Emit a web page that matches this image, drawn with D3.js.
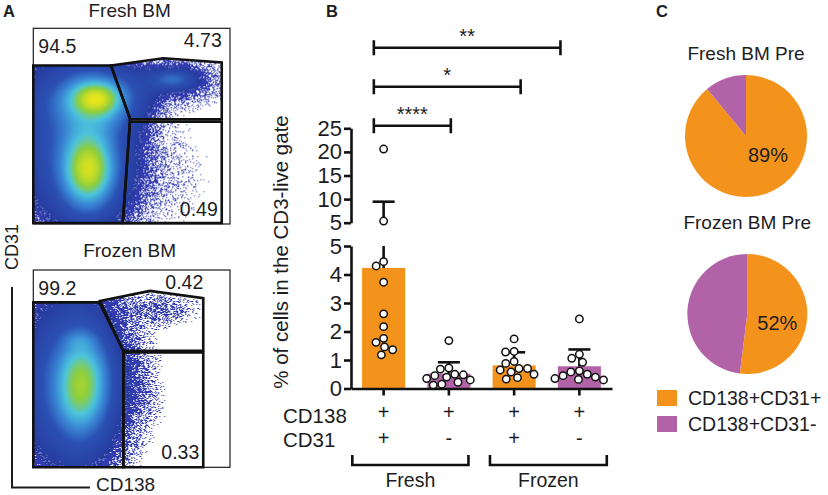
<!DOCTYPE html>
<html lang="en">
<head>
<meta charset="UTF-8">
<script src="https://cdn.jsdelivr.net/npm/d3@7"></script>
<title>CD138 / CD31 figure</title>
<style>
  body { margin: 0; background: #fff; }
  svg { display: block; font-family: "Liberation Sans", Arial, sans-serif; }
</style>
</head>
<body>
<div id="chart"></div>
<script>
// ---------- data ----------
// panel B: bars
const cd138Row = ["+", "+", "+", "+"];
const cd31Row = ["+", "-", "+", "-"];
const barMeans = [4.23, 0.52, 0.81, 0.78];
const barSD = [5.22, 0.40, 0.46, 0.59];
const freshPos = [20.6, 5.35, 4.45, 4.30, 3.73, 2.62, 2.17, 1.76, 1.62, 1.46, 1.36, 1.18];
const freshNeg = [1.68, 0.72, 0.68, 0.50, 0.48, 0.45, 0.40, 0.35, 0.30, 0.22, 0.15, 0.12];
const frozenPos = [1.74, 1.30, 1.28, 0.95, 0.88, 0.70, 0.65, 0.70, 0.58, 0.50, 0.38, 0.33];
const frozenNeg = [2.44, 1.20, 1.06, 0.92, 0.62, 0.58, 0.50, 0.45, 0.40, 0.35, 0.32, 0.30];
const lowTicks = [0, 1, 2, 3, 4, 5];
const highTicks = [5, 10, 15, 20, 25];
const sigLabels = ["****", "*", "**"];
const sigFrom = [-0.15, -0.15, -0.15];   // in bar-index units
const sigTo = [1.03, 2.1, 2.71];
const groupNames = ["Fresh", "Frozen"];
const groupFrom = [-0.48, 1.63];
const groupTo = [1.3, 3.42];

// panel C: pies
const pieTitles = ["Fresh BM Pre", "Frozen BM Pre"];
const freshPie = [89, 11];
const frozenPie = [52, 48];
const pieLabels = ["89%", "52%"];
const legendLabels = ["CD138+CD31+", "CD138+CD31-"];

// panel A: flow plots (axes 0-100 on both CD138 and CD31)
const flowTitles = ["Fresh BM", "Frozen BM"];
const freshGates = [
  [[0, 81], [39.5, 81], [49.2, 54], [45.5, 0.5], [0, 0.5]],
  [[39.5, 81], [66.1, 84.7], [95.8, 82.6], [95.8, 53.5], [49.2, 53.5]],
  [[49.2, 52.3], [95.8, 52.3], [95.8, 0.5], [45.5, 0.5]]
];
const frozenGates = [
  [[0, 83.6], [33.6, 83.6], [45.8, 59], [45.8, 0], [0, 0]],
  [[33.9, 84.3], [59.3, 89.4], [86.4, 85.7], [86.4, 59], [45.8, 59]],
  [[45.8, 58.2], [86.4, 58.2], [86.4, 0], [45.8, 0]]
];
const freshGateValues = ["94.5", "4.73", "0.49"];
const frozenGateValues = ["99.2", "0.42", "0.33"];
// density model: [centre CD138, centre CD31, spread x, spread y, weight]
const freshClusters = [
  [32, 64, 7, 4.8, 0.55],
  [28, 28, 6.5, 9.5, 0.5],
  [31, 63, 14, 10, 0.38],
  [28, 30, 12, 17, 0.38],
  [20, 50, 16, 35, 0.085],
  [3, 45, 5, 30, 0.04],
  [71, 74, 7, 3.2, 0.17],
  [68, 73, 16, 6.5, 0.07],
  [55, 40, 6, 22, 0.012],
  [67, 25, 15, 18, 0.011]
];
const frozenClusters = [
  [25, 48, 7, 10, 0.25],
  [24, 35, 7, 10, 0.25],
  [24, 42, 13, 22, 0.25],
  [20, 45, 13, 33, 0.1],
  [3, 42, 5, 30, 0.04],
  [24, 64, 5, 3, 0.08],
  [63, 80, 12, 5, 0.028],
  [54, 40, 8, 16, 0.014]
];

// ---------- layout ----------
const W = 828, H = 495;
const orange = "#f4931c", purple = "#b262a6", ink = "#1d1d1f";
const barColors = [orange, purple, orange, purple];

const svg = d3.select("#chart").append("svg")
  .attr("width", W).attr("height", H);

const panelLetter = (x, t) => svg.append("text")
  .attr("x", x).attr("y", 17).attr("font-size", 16.5)
  .attr("font-weight", "bold").attr("fill", ink).text(t);
panelLetter(3, "A");
panelLetter(326, "B");
panelLetter(656, "C");

// ---------- panel A ----------
const ramp = d3.scaleLinear()
  .domain([0, 0.4, 0.6, 0.75, 0.87, 1])
  .range(["#26389c", "#2b50b4", "#3a8ad6", "#4cc4dc", "#8fcf3c", "#e6e41c"])
  .clamp(true);

// grain for the event cloud (fixed hash, texture only)
function grain(x, y) {
  let h = Math.imul(x, 374761393) + Math.imul(y, 668265263) | 0;
  h = Math.imul(h ^ (h >>> 13), 1274126177);
  return ((h ^ (h >>> 16)) >>> 0) / 4294967296;
}

function drawFlow(id, frame, gates, clusters, values, title, titleY, seed) {
  const [x0, x1, y0, y1] = frame;
  const xF = d3.scaleLinear([0, 100], [x0, x1]);
  const yF = d3.scaleLinear([0, 100], [y1, y0]);
  const g = svg.append("g");

  g.append("text").attr("x", (x0 + x1) / 2 - 2).attr("y", titleY)
    .attr("text-anchor", "middle").attr("font-size", 19).attr("fill", ink).text(title);

  // density picture
  const w = Math.round(x1 - x0), h = Math.round(y1 - y0);
  const canvas = document.createElement("canvas");
  canvas.width = w; canvas.height = h;
  const ctx = canvas.getContext("2d");
  const img = ctx.createImageData(w, h);
  const L0 = -1.25, L1 = -2.5;
  const speck = d3.rgb(50, 60, 176);
  for (let py = 0; py < h; py++) {
    for (let px = 0; px < w; px++) {
      const u = xF.invert(x0 + px + 0.5), v = yF.invert(y0 + py + 0.5);
      const d = d3.sum(clusters, c =>
        c[4] * Math.exp(-0.5 * ((u - c[0]) / c[2]) ** 2 - 0.5 * ((v - c[1]) / c[3]) ** 2));
      const ld = Math.log10(d + 1e-9);
      const n = grain(px + seed, py);
      const k = (py * w + px) * 4;
      let col = null;
      if (ld >= L0) {
        const lv = (ld - L0) / -L0;
        col = (lv < 0.12 && n > 0.75 + lv * 2) ? d3.rgb(120, 130, 210) : d3.rgb(ramp(lv));
      } else if (ld > L1) {
        const p = Math.pow((ld - L1) / (L0 - L1), 1.6);
        if (n < p) col = speck;
      }
      if (col) {
        img.data[k] = col.r; img.data[k + 1] = col.g; img.data[k + 2] = col.b; img.data[k + 3] = 255;
      }
    }
  }
  ctx.putImageData(img, 0, 0);

  const clip = g.append("clipPath").attr("id", id);
  gates.forEach(gt => clip.append("polygon")
    .attr("points", gt.map(p => [xF(p[0]), yF(p[1])].join(",")).join(" ")));

  g.append("image").attr("x", x0).attr("y", y0).attr("width", w).attr("height", h)
    .attr("href", canvas.toDataURL()).attr("clip-path", `url(#${id})`);

  g.append("rect").attr("x", x0).attr("y", y0).attr("width", x1 - x0).attr("height", y1 - y0)
    .attr("fill", "none").attr("stroke", ink).attr("stroke-width", 1.2);

  g.selectAll("polygon.gate").data(gates).join("polygon")
    .attr("class", "gate")
    .attr("points", gt => gt.map(p => [xF(p[0]), yF(p[1])].join(",")).join(" "))
    .attr("fill", "none").attr("stroke", "#111").attr("stroke-width", 2.6)
    .attr("stroke-linejoin", "miter");

  const hiRight = xF(d3.max(gates[1], p => p[0]));
  const loRight = xF(d3.max(gates[2], p => p[0]));
  const lab = (x, y, anchor, t) => g.append("text").attr("x", x).attr("y", y)
    .attr("text-anchor", anchor).attr("font-size", 19.5).attr("fill", ink).text(t);
  lab(x0 + 5, y0 + 25, "start", values[0]);
  lab(hiRight, y0 + 19, "end", values[1]);
  lab(loRight - 4, y1 - 8, "end", values[2]);
}

drawFlow("clipFresh", [33.3, 230, 28.3, 224], freshGates, freshClusters, freshGateValues, flowTitles[0], 17, 0);
drawFlow("clipFrozen", [33.3, 230, 270, 467.3], frozenGates, frozenClusters, frozenGateValues, flowTitles[1], 257, 501);

// CD31 / CD138 axis indicator
svg.append("path").attr("d", "M12,287 V487.5 H90")
  .attr("fill", "none").attr("stroke", ink).attr("stroke-width", 2);
svg.append("text").attr("transform", "translate(18,247) rotate(-90)")
  .attr("text-anchor", "middle").attr("font-size", 18).attr("fill", ink).text("CD31");
svg.append("text").attr("x", 96).attr("y", 491)
  .attr("font-size", 19).attr("fill", ink).text("CD138");

// ---------- panel B ----------
const xB = d3.scaleBand().domain(d3.range(barMeans.length))
  .range([351, 612]).paddingInner(0.34).paddingOuter(0.17);
const bw = xB.bandwidth();
const cx = i => xB(i) + bw / 2;
const xIdx = d3.scaleLinear([0, 3], [cx(0), cx(3)]);
const yLo = d3.scaleLinear([0, 5], [388.5, 246]);
const yHi = d3.scaleLinear([5, 25], [222.7, 128.3]);
const yOf = v => v > 5 ? yHi(v) : yLo(v);

const gB = svg.append("g");

gB.selectAll("rect.bar").data(barMeans).join("rect")
  .attr("class", "bar")
  .attr("x", (d, i) => xB(i)).attr("width", bw)
  .attr("y", d => yLo(d)).attr("height", d => yLo(0) - yLo(d))
  .attr("fill", (d, i) => barColors[i]);

// error bars (mean + SD), split across the axis break
barMeans.forEach((m, i) => {
  const top = m + barSD[i];
  const x = cx(i);
  const segs = top > 5
    ? [[yLo(m), yLo(5)], [yHi(5), yHi(top)]]
    : [[yLo(m), yLo(top)]];
  segs.forEach(s => gB.append("line").attr("x1", x).attr("x2", x)
    .attr("y1", s[0]).attr("y2", s[1]).attr("stroke", "#111").attr("stroke-width", 2.6));
  gB.append("line").attr("x1", x - 11).attr("x2", x + 11)
    .attr("y1", yOf(top)).attr("y2", yOf(top))
    .attr("stroke", "#111").attr("stroke-width", 2.6);
});

// dots, spread sideways like a scatter column
function swarm(values, centre, dist) {
  const placed = [];
  const out = new Array(values.length);
  d3.range(values.length).sort((a, b) => values[b] - values[a]).forEach(i => {
    const y = yOf(values[i]);
    const blocked = [];
    placed.forEach(p => {
      const dy = Math.abs(p.y - y);
      if (dy < dist) {
        const dx = Math.sqrt(dist * dist - dy * dy);
        blocked.push([p.x - dx, p.x + dx]);
      }
    });
    const cands = [0, ...blocked.flat()].sort((a, b) => Math.abs(a) - Math.abs(b));
    const x = cands.find(c => blocked.every(([a, b]) => c <= a + 1e-6 || c >= b - 1e-6));
    placed.push({ x, y });
    out[i] = { x: centre + x, y };
  });
  return out;
}

[freshPos, freshNeg, frozenPos, frozenNeg].forEach((vals, i) => {
  gB.selectAll(null).data(swarm(vals, cx(i), 8.6)).join("circle")
    .attr("cx", d => d.x).attr("cy", d => d.y).attr("r", 3.7)
    .attr("fill", "#fff").attr("stroke", "#111").attr("stroke-width", 1.5);
});

// axes
function styleAxis(sel, fs) {
  sel.attr("font-family", null).attr("font-size", null);
  sel.selectAll("path, line").attr("stroke", "#111").attr("stroke-width", 2.6);
  sel.selectAll("text").attr("font-size", fs).attr("fill", ink);
}
gB.append("g").attr("transform", "translate(351,0)")
  .call(d3.axisLeft(yLo).tickValues(lowTicks).tickFormat(d3.format("d"))
    .tickSize(7).tickSizeOuter(0).tickPadding(2))
  .call(styleAxis, 22);
gB.append("g").attr("transform", "translate(351,0)")
  .call(d3.axisLeft(yHi).tickValues(highTicks).tickFormat(d3.format("d"))
    .tickSize(7).tickSizeOuter(0).tickPadding(2))
  .call(styleAxis, 22);
gB.append("g").attr("transform", `translate(0,${yLo(0)})`)
  .call(d3.axisBottom(xB).tickFormat("").tickSize(7).tickSizeOuter(0))
  .call(styleAxis, 10);

gB.append("text").attr("transform", "translate(288,252) rotate(-90)")
  .attr("text-anchor", "middle").attr("font-size", 20.5).attr("fill", ink)
  .text("% of cells in the CD3-live gate");

// significance brackets
sigLabels.forEach((s, i) => {
  const y = yHi(25) - 2.5 - i * 39;
  const xa = xIdx(sigFrom[i]), xb = xIdx(sigTo[i]);
  gB.append("path").attr("d", `M${xa},${y - 7.5}V${y + 7.5}M${xa},${y}H${xb}M${xb},${y - 7.5}V${y + 7.5}`)
    .attr("fill", "none").attr("stroke", "#111").attr("stroke-width", 2.6);
  gB.append("text").attr("x", (xa + xb) / 2).attr("y", y - 5)
    .attr("text-anchor", "middle").attr("font-size", 20).attr("fill", ink).text(s);
});

// category rows
const rowLabel = (t, y) => gB.append("text").attr("x", 283).attr("y", y)
  .attr("font-size", 20.5).attr("fill", ink).text(t);
rowLabel("CD138", 423);
rowLabel("CD31", 447);
gB.selectAll("text.r1").data(cd138Row).join("text").attr("class", "r1")
  .attr("x", (d, i) => cx(i)).attr("y", 419).attr("text-anchor", "middle")
  .attr("font-size", 20).attr("fill", ink).text(d => d);
gB.selectAll("text.r2").data(cd31Row).join("text").attr("class", "r2")
  .attr("x", (d, i) => cx(i)).attr("y", 445).attr("text-anchor", "middle")
  .attr("font-size", 20).attr("fill", ink).text(d => d);

groupNames.forEach((n, i) => {
  const xa = xIdx(groupFrom[i]), xb = xIdx(groupTo[i]);
  gB.append("path").attr("d", `M${xa},455V465H${xb}V455`)
    .attr("fill", "none").attr("stroke", "#111").attr("stroke-width", 2.6);
  gB.append("text").attr("x", (xa + xb) / 2).attr("y", 487)
    .attr("text-anchor", "middle").attr("font-size", 19.5).attr("fill", ink).text(n);
});

// ---------- panel C ----------
const pie = d3.pie().sort(null).value(d => d);
const pies = [
  { vals: freshPie, c: [746, 136], r: 61, titleY: 60, lab: [22, 26] },
  { vals: frozenPie, c: [747.3, 314], r: 60, titleY: 229, lab: [30, 16] }
];
pies.forEach((p, i) => {
  const g = svg.append("g");
  g.append("text").attr("x", p.c[0]).attr("y", p.titleY).attr("text-anchor", "middle")
    .attr("font-size", 19).attr("fill", ink).text(pieTitles[i]);
  const arc = d3.arc().innerRadius(0).outerRadius(p.r);
  g.append("g").attr("transform", `translate(${p.c})`)
    .selectAll("path").data(pie(p.vals)).join("path")
    .attr("d", arc).attr("fill", (d, j) => j === 0 ? orange : purple);
  g.append("text").attr("x", p.c[0] + p.lab[0]).attr("y", p.c[1] + p.lab[1])
    .attr("text-anchor", "middle").attr("font-size", 20).attr("fill", ink).text(pieLabels[i]);
});

legendLabels.forEach((t, i) => {
  svg.append("rect").attr("x", 657).attr("y", 390 + i * 26).attr("width", 20).attr("height", 16)
    .attr("fill", i === 0 ? orange : purple);
  svg.append("text").attr("x", 688).attr("y", 405 + i * 26)
    .attr("font-size", 19.5).attr("fill", ink).text(t);
});
</script>
</body>
</html>
